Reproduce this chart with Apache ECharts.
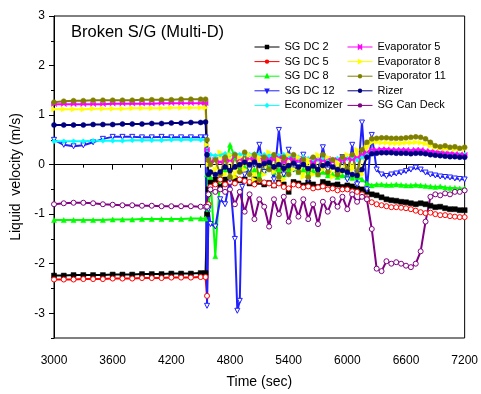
<!DOCTYPE html>
<html>
<head>
<meta charset="utf-8">
<script src="https://cdn.jsdelivr.net/npm/echarts@6/dist/echarts.min.js"></script>
<style>
html,body{margin:0;padding:0;background:#fff;}
#chart{width:481px;height:394px;}
</style>
</head>
<body>
<div id="chart"></div>
<script>
// Time axis samples (s)
const times = [
  3000,3100,3200,3300,3400,3500,3600,3700,3800,3900,4000,4100,4200,4300,4400,4500,4550,
  4565,4580,4600,
  4650,4700,4750,4800,4850,4875,4900,4925,4950,5000,5050,5100,5150,5200,5250,5300,5350,5400,5450,5500,5550,5600,5650,5700,5750,5800,5850,5900,5950,6000,6050,6100,6150,6200,6250,
  6300,6350,6400,6450,6500,6550,6600,6650,6700,6750,6800,6850,6900,6950,7000,7050,7100,7150,7200
];

const sgDc2 = [
  -2.24,-2.24,-2.23,-2.23,-2.23,-2.23,-2.22,-2.22,-2.22,-2.21,-2.21,-2.21,-2.2,-2.2,-2.2,-2.19,-2.19,
  -1.0,-0.5,-0.35,
  -0.3,-0.45,-0.3,-0.35,-0.28,null,-0.32,null,-0.3,-0.38,-0.3,-0.35,-0.4,-0.37,-0.42,-0.36,-0.4,-0.55,-0.35,-0.38,-0.42,-0.36,-0.4,-0.45,-0.35,-0.38,-0.42,-0.4,-0.45,-0.42,-0.44,-0.48,-0.5,-0.55,-0.6,
  -0.62,-0.66,-0.7,-0.72,-0.73,-0.75,-0.76,-0.78,-0.8,-0.78,-0.8,-0.83,-0.86,-0.85,-0.88,-0.9,-0.9,-0.92,-0.92
];
const sgDc5 = [
  -2.32,-2.32,-2.32,-2.31,-2.31,-2.31,-2.3,-2.3,-2.3,-2.29,-2.29,-2.29,-2.28,-2.28,-2.28,-2.27,-2.27,
  -2.65,-0.8,-0.45,
  -0.4,-0.3,-0.4,-0.35,-0.38,null,-0.3,null,-0.33,-0.35,-0.4,-0.32,-0.36,-0.38,-0.42,-0.38,-0.45,-0.48,-0.4,-0.42,-0.46,-0.44,-0.48,-0.46,-0.44,-0.5,-0.48,-0.52,-0.5,-0.5,-0.54,-0.55,-0.6,-0.68,-0.76,
  -0.8,-0.82,-0.84,-0.86,-0.86,-0.87,-0.88,-0.9,-0.93,-0.96,-0.98,-0.97,-1.0,-1.02,-1.02,-1.04,-1.05,-1.06,-1.06
];
const sgDc8 = [
  -1.12,-1.12,-1.12,-1.12,-1.12,-1.12,-1.11,-1.11,-1.11,-1.1,-1.1,-1.1,-1.1,-1.1,-1.09,-1.09,-1.09,
  -0.2,-0.9,-0.25,
  -1.85,-0.15,-0.1,0.4,0.15,null,-0.1,null,-0.05,-0.15,-0.1,-0.2,-0.12,-0.05,-0.15,-0.1,-0.2,-0.12,-0.08,-0.15,-0.1,-0.18,-0.12,-0.2,-0.15,-0.22,-0.2,-0.25,-0.22,-0.25,-0.27,-0.25,-0.3,-0.38,-0.42,
  -0.4,-0.4,-0.41,-0.41,-0.4,-0.41,-0.42,-0.42,-0.41,-0.42,-0.43,-0.44,-0.45,-0.44,-0.46,-0.47,-0.47,-0.48,-0.48
];
const sgDc12 = [
  0.5,0.4,0.37,0.39,0.45,0.52,0.56,0.56,0.56,0.55,0.55,0.56,0.55,0.55,0.55,0.55,0.55,
  -2.85,-0.9,-1.2,
  -1.25,-0.7,-0.8,-0.3,-1.5,-2.95,-2.75,-0.45,-0.2,-0.1,0.0,0.4,-0.15,0.1,-0.3,0.7,-0.2,0.3,-0.1,0.0,0.2,-0.3,0.1,-0.15,0.35,-0.1,0.0,-0.2,0.15,-0.3,0.4,-0.4,0.85,-0.5,0.6,
  -0.1,-0.2,-0.23,-0.2,-0.18,-0.16,-0.13,-0.1,-0.06,-0.1,-0.16,-0.2,-0.22,-0.24,-0.25,-0.26,-0.28,-0.29,-0.3
];
const economizer = [
  0.47,0.47,0.47,0.47,0.48,0.48,0.48,0.48,0.49,0.49,0.49,0.49,0.5,0.5,0.5,0.5,0.5,
  0.3,0.2,0.2,
  0.18,0.2,0.22,0.2,0.22,null,0.2,null,0.22,0.2,0.22,0.2,0.2,0.18,0.2,0.18,0.2,0.16,0.18,0.15,0.15,0.12,0.1,0.1,0.12,0.1,0.1,0.12,0.1,0.12,0.15,0.1,0.15,0.2,0.25,
  0.26,0.26,0.25,0.25,0.25,0.25,0.24,0.24,0.24,0.25,0.24,0.23,0.22,0.22,0.21,0.21,0.2,0.2,0.2
];
const evap5 = [
  1.22,1.22,1.22,1.22,1.22,1.22,1.23,1.23,1.23,1.23,1.23,1.24,1.24,1.24,1.24,1.24,1.24,
  0.3,0.1,0.05,
  0.1,0.05,0.12,0.08,0.15,null,0.1,null,0.05,0.12,0.1,0.15,0.08,0.12,0.1,0.15,0.05,0.12,0.1,0.08,0.12,0.1,0.05,0.1,0.08,0.12,0.05,0.1,0.08,0.12,0.1,0.15,0.2,0.25,0.3,
  0.3,0.31,0.31,0.3,0.3,0.3,0.3,0.29,0.3,0.3,0.28,0.27,0.26,0.25,0.24,0.23,0.22,0.21,0.2
];
const evap8 = [
  1.12,1.12,1.12,1.12,1.13,1.13,1.13,1.13,1.14,1.14,1.14,1.14,1.15,1.15,1.15,1.15,1.15,
  0.4,0.0,-0.2,
  -0.1,0.25,-0.2,0.2,-0.25,null,0.15,null,-0.1,0.2,-0.3,0.15,-0.2,0.25,-0.15,0.1,-0.3,0.2,-0.1,0.15,-0.25,0.1,-0.2,0.2,-0.1,0.15,-0.25,0.05,-0.15,0.2,-0.1,0.3,-0.2,0.35,0.45,
  0.45,0.44,0.44,0.43,0.43,0.43,0.44,0.44,0.45,0.44,0.42,0.38,0.35,0.33,0.32,0.32,0.31,0.32,0.32
];
const evap11 = [
  1.26,1.28,1.29,1.29,1.3,1.3,1.3,1.3,1.3,1.31,1.31,1.31,1.31,1.32,1.32,1.32,1.32,
  0.5,0.1,0.0,
  0.1,-0.2,0.15,-0.25,0.2,null,-0.15,null,0.25,-0.2,0.2,-0.3,0.15,-0.1,0.2,-0.25,0.15,-0.2,0.2,-0.15,0.1,-0.25,0.15,-0.2,0.2,-0.15,0.1,-0.2,0.15,-0.1,0.2,-0.2,0.3,0.45,0.52,
  0.53,0.54,0.54,0.53,0.53,0.53,0.54,0.55,0.56,0.55,0.52,0.45,0.38,0.36,0.38,0.35,0.36,0.33,0.35
];
const rizer = [
  0.8,0.8,0.8,0.8,0.81,0.81,0.81,0.82,0.82,0.82,0.83,0.83,0.84,0.84,0.85,0.85,0.86,
  0.2,-0.2,-0.15,
  -0.2,-0.15,-0.05,-0.12,-0.05,null,0.0,null,0.05,0.0,0.05,-0.02,0.02,0.05,-0.05,0.0,-0.08,-0.02,0.03,-0.05,0.0,-0.08,-0.03,-0.1,-0.02,0.02,-0.05,-0.1,-0.12,-0.15,-0.2,-0.22,-0.1,0.15,0.22,
  0.23,0.24,0.24,0.24,0.23,0.23,0.23,0.22,0.23,0.23,0.22,0.2,0.19,0.18,0.17,0.16,0.16,0.15,0.15
];
const sgCanDeck = [
  -0.8,-0.78,-0.77,-0.77,-0.78,-0.8,-0.81,-0.82,-0.82,-0.83,-0.83,-0.84,-0.84,-0.84,-0.84,-0.85,-0.85,
  -0.85,-0.6,-0.5,
  -0.55,-0.5,-0.55,-0.5,-0.8,null,-0.55,null,-0.95,-0.6,-1.1,-0.7,-0.85,-1.25,-0.7,-1.0,-0.65,-1.15,-0.75,-1.05,-0.7,-1.1,-0.8,-1.2,-0.75,-0.95,-0.7,-0.85,-0.65,-0.9,-0.6,-0.75,-0.65,-0.7,-1.3,
  -2.1,-2.15,-1.95,-2.0,-1.97,-2.0,-2.04,-2.07,-2.0,-1.75,-1.15,-0.65,-0.6,-0.62,-0.58,-0.6,-0.55,-0.55,-0.52
];

const yTicks = [-3,-2,-1,0,1,2,3];
const yMinorTicks = [-3.5,-2.5,-1.5,-0.5,0.5,1.5,2.5];

const FONT = "'Liberation Sans', Arial, sans-serif";
const bowtie = 'path://M0,0L10,10L10,0L0,10Z';

const defs = [
  {name:'SG DC 2', data:sgDc2, color:'#000000', symbol:'rect', open:false},
  {name:'SG DC 5', data:sgDc5, color:'#ff0000', symbol:'circle', open:true},
  {name:'SG DC 8', data:sgDc8, color:'#00ff00', symbol:'triangle', open:false},
  {name:'SG DC 12', data:sgDc12, color:'#2020ff', symbol:'triangle', open:true, rotate:180},
  {name:'Economizer', data:economizer, color:'#00ffff', symbol:'diamond', open:false},
  {name:'Evaporator 5', data:evap5, color:'#ff00ff', symbol:bowtie, open:false},
  {name:'Evaporator 8', data:evap8, color:'#ffff00', symbol:'triangle', open:false, rotate:-90},
  {name:'Evaporator 11', data:evap11, color:'#808000', symbol:'circle', open:false},
  {name:'Rizer', data:rizer, color:'#000080', symbol:'circle', open:false},
  {name:'SG Can Deck', data:sgCanDeck, color:'#800080', symbol:'circle', open:true}
];

const series = defs.map(d => ({
  name: d.name,
  type: 'line',
  xAxisIndex: 0,
  yAxisIndex: 0,
  data: times.map((t,i) => [t, d.data[i]]).filter(p => p[1] !== null && p[1] !== undefined),
  symbol: d.symbol,
  symbolRotate: d.rotate || 0,
  symbolSize: 5,
  showSymbol: true,
  connectNulls: true,
  clip: true,
  lineStyle: {color: d.color, width: 2},
  itemStyle: d.open ? {color:'#ffffff', borderColor:d.color, borderWidth:1} : {color:d.color, borderColor:d.color, borderWidth:0.5},
  emphasis: {disabled: true},
  animation: false
}));

const legendCommon = {
  orient: 'vertical',
  top: 41,
  padding: 0,
  itemGap: 2.6,
  itemWidth: 25,
  itemHeight: 3,
  lineStyle: {width: 1},
  textStyle: {fontFamily: FONT, fontSize: 11, color: '#000', lineHeight: 12},
  selectedMode: false
};

const chart = echarts.init(document.getElementById('chart'), null, {renderer: 'canvas'});
chart.setOption({
  animation: false,
  backgroundColor: '#ffffff',
  grid: {left: 54, right: 12, top: 16, bottom: 51, show: true, borderColor: '#000', borderWidth: 1, backgroundColor: 'transparent'},
  title: {
    text: 'Broken S/G (Multi-D)', left: 71, top: 24, padding: 0,
    textStyle: {fontFamily: FONT, fontSize: 16.5, fontWeight: 'normal', color: '#000'}
  },
  legend: [
    Object.assign({}, legendCommon, {left: 254, data: defs.slice(0,5).map(d => d.name)}),
    Object.assign({}, legendCommon, {left: 347, data: defs.slice(5).map(d => d.name)})
  ],
  xAxis: [{
    type: 'value', min: 3000, max: 7200, interval: 600,
    name: 'Time (sec)', nameLocation: 'middle', nameGap: 37,
    nameTextStyle: {fontFamily: FONT, fontSize: 14, color: '#000'},
    axisLine: {lineStyle: {color: '#000', width: 1}},
    axisTick: {show: true, length: 5, lineStyle: {color: '#000'}},
    minorTick: {show: true, splitNumber: 2, length: 3, lineStyle: {color: '#000'}},
    axisLabel: {fontFamily: FONT, fontSize: 12, color: '#000', margin: 17, formatter: v => String(v)},
    splitLine: {show: false}
  }],
  yAxis: [{
    type: 'value', min: -3.5, max: 3,
    name: 'Liquid  velocity (m/s)', nameLocation: 'middle', nameGap: 31,
    nameTextStyle: {fontFamily: FONT, fontSize: 14, color: '#000'},
    axisLine: {show: true, lineStyle: {color: '#000', width: 1}},
    axisTick: {show: true, length: 5, customValues: yTicks, lineStyle: {color: '#000'}},
    axisLabel: {fontFamily: FONT, fontSize: 12, color: '#000', margin: 9, customValues: yTicks},
    splitLine: {show: false}
  }, {
    type: 'value', min: -3.5, max: 3, position: 'left',
    axisLine: {show: false},
    axisTick: {show: true, length: 3, customValues: yMinorTicks, lineStyle: {color: '#000'}},
    axisLabel: {show: false},
    splitLine: {show: false}
  }],
  series: series
});
</script>
</body>
</html>
